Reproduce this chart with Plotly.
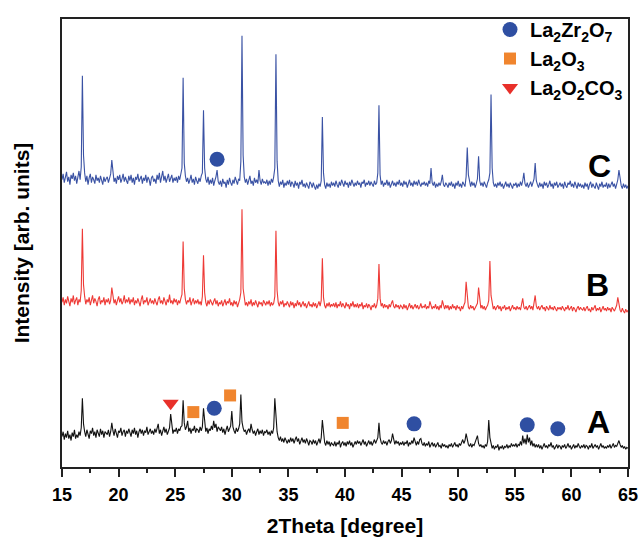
import numpy as np
import plotly.graph_objects as go

# 2theta sampling (0.1 degree step, 15..65)
two_theta = [round(15 + 0.1 * i, 1) for i in range(501)]

# Sample C (blue), intensities
intensity_C = [
    293, 299, 290, 297, 301, 291, 296, 288, 298, 294, 300, 292, 297, 289, 295, 302, 293, 306, 399, 318,
    300, 291, 297, 288, 295, 299, 290, 296, 293, 289, 298, 292, 295, 290, 297, 293, 288, 296, 291, 294,
    296, 290, 295, 299, 313, 297, 291, 295, 289, 297, 293, 298, 290, 294, 299, 291, 296, 292, 289, 297,
    292, 298, 290, 295, 288, 296, 293, 299, 291, 294, 297, 289, 295, 292, 298, 290, 296, 293, 287, 295,
    297, 291, 294, 289, 298, 293, 300, 290, 296, 302, 292, 297, 290, 295, 299, 291, 294, 298, 290, 295,
    292, 296, 290, 297, 293, 298, 305, 397, 310, 297, 291, 295, 289, 293, 298, 290, 294, 288, 296, 292,
    289, 295, 291, 297, 300, 364, 305, 294, 290, 296, 288, 293, 289, 295, 287, 292, 296, 303, 291, 288,
    292, 286, 294, 289, 291, 285, 293, 288, 295, 290, 287, 293, 289, 296, 290, 288, 294, 292, 312, 440,
    318, 296, 290, 294, 288, 293, 297, 289, 292, 287, 295, 290, 293, 289, 303, 292, 288, 294, 290, 291,
    289, 293, 287, 292, 288, 294, 290, 296, 305, 421, 312, 292, 286, 291, 288, 293, 285, 290, 287, 292,
    288, 293, 286, 291, 289, 285, 292, 287, 290, 284, 291, 288, 293, 286, 289, 285, 290, 287, 284, 291,
    289, 285, 290, 286, 283, 288, 284, 289, 286, 292, 357, 300, 288, 284, 290, 286, 289, 285, 291, 287,
    290, 286, 292, 288, 285, 291, 287, 293, 289, 286, 292, 288, 290, 285, 291, 287, 293, 288, 286, 290,
    287, 292, 288, 290, 285, 291, 289, 293, 286, 290, 288, 292, 287, 291, 289, 286, 292, 288, 290, 300,
    369, 298, 288, 292, 286, 290, 288, 293, 287, 291, 285, 289, 292, 287, 290, 286, 291, 288, 293, 287,
    290, 286, 292, 288, 291, 285, 289, 293, 287, 290, 286, 292, 288, 291, 287, 293, 289, 286, 290, 288,
    291, 287, 290, 286, 292, 289, 305, 290, 287, 291, 285, 289, 286, 290, 287, 291, 298, 288, 286, 290,
    288, 285, 290, 287, 291, 286, 289, 284, 290, 287, 292, 286, 289, 285, 291, 288, 286, 296, 326, 298,
    289, 286, 291, 287, 290, 285, 289, 294, 317, 292, 287, 290, 286, 291, 288, 285, 290, 293, 300, 380,
    305, 290, 286, 289, 285, 290, 287, 291, 286, 289, 284, 288, 291, 286, 289, 285, 290, 287, 284, 289,
    287, 290, 285, 289, 286, 291, 287, 292, 300, 289, 286, 290, 285, 288, 291, 286, 289, 294, 310, 292,
    288, 285, 290, 286, 289, 284, 291, 287, 290, 285, 288, 292, 286, 289, 284, 290, 287, 291, 285, 288,
    290, 286, 289, 284, 291, 287, 285, 290, 288, 292, 286, 289, 285, 291, 287, 284, 290, 286, 289, 285,
    288, 284, 290, 286, 289, 283, 288, 291, 285, 289, 286, 284, 290, 287, 283, 289, 286, 291, 285, 288,
    286, 290, 284, 289, 285, 288, 291, 286, 289, 284, 288, 293, 303, 294, 287, 284, 289, 285, 288, 284, 287,
]

# Sample B (red)
intensity_B = [
    168, 173, 165, 171, 167, 174, 169, 164, 172, 168, 175, 166, 170, 173, 165, 171, 168, 180, 243, 186,
    174, 166, 171, 168, 173, 165, 170, 175, 167, 172, 169, 164, 171, 174, 166, 170, 168, 173, 165, 171,
    168, 172, 166, 170, 183, 173, 167, 171, 165, 170, 174, 168, 172, 166, 169, 175, 167, 171, 168, 173,
    166, 171, 168, 173, 165, 170, 167, 172, 169, 164, 171, 175, 166, 170, 168, 173, 165, 169, 172, 167,
    170, 166, 172, 168, 165, 171, 174, 167, 170, 166, 173, 169, 165, 171, 168, 176, 167, 170, 166, 172,
    168, 171, 165, 170, 167, 172, 176, 230, 182, 171, 166, 170, 168, 173, 165, 169, 172, 166, 170, 167,
    171, 166, 169, 165, 174, 216, 178, 168, 164, 170, 166, 171, 167, 165, 169, 172, 166, 170, 164, 168,
    166, 170, 164, 168, 171, 165, 169, 167, 172, 165, 168, 164, 170, 166, 169, 163, 167, 171, 178, 263,
    182, 170, 165, 168, 164, 169, 166, 171, 164, 168, 165, 170, 167, 163, 169, 166, 168, 164, 170, 167,
    165, 169, 166, 170, 164, 168, 165, 167, 174, 241, 180, 168, 164, 169, 166, 170, 163, 167, 165, 169,
    166, 163, 169, 165, 168, 162, 167, 164, 170, 165, 168, 163, 166, 169, 164, 167, 162, 166, 169, 164,
    166, 163, 168, 164, 167, 162, 166, 169, 164, 170, 213, 173, 165, 162, 167, 164, 168, 163, 166, 164,
    167, 163, 168, 162, 166, 164, 169, 163, 167, 165, 162, 168, 164, 166, 161, 167, 164, 169, 163, 166,
    163, 167, 162, 166, 164, 168, 161, 165, 163, 167, 162, 166, 164, 160, 165, 163, 167, 162, 165, 172,
    207, 172, 164, 167, 162, 166, 163, 165, 161, 166, 163, 167, 170, 164, 162, 166, 163, 165, 161, 165,
    164, 161, 166, 162, 165, 160, 164, 167, 162, 165, 161, 164, 166, 162, 165, 161, 163, 167, 162, 164,
    163, 166, 161, 164, 162, 169, 165, 161, 164, 162, 166, 161, 164, 160, 165, 162, 170, 164, 161, 165,
    162, 165, 160, 164, 161, 166, 162, 164, 160, 165, 162, 163, 159, 164, 161, 165, 168, 189, 170, 163,
    161, 165, 162, 164, 160, 163, 166, 167, 183, 168, 162, 165, 161, 164, 160, 163, 165, 170, 210, 175,
    165, 161, 164, 160, 163, 165, 161, 164, 159, 163, 162, 165, 160, 163, 161, 164, 159, 162, 165, 161,
    163, 160, 164, 161, 163, 160, 165, 172, 163, 161, 164, 160, 163, 165, 161, 164, 160, 166, 175, 164,
    161, 164, 160, 163, 165, 161, 163, 159, 164, 162, 160, 165, 161, 163, 160, 164, 162, 159, 163, 161,
    163, 160, 164, 161, 159, 163, 161, 165, 160, 162, 164, 159, 163, 161, 158, 162, 164, 160, 163, 161,
    160, 163, 159, 162, 164, 160, 161, 158, 163, 160, 162, 165, 159, 162, 160, 163, 158, 161, 164, 160,
    162, 159, 163, 160, 162, 158, 163, 161, 159, 162, 165, 173, 164, 160, 158, 162, 159, 157, 161, 158, 160,
]

# Sample A (black)
intensity_A = [
    31, 36, 28, 34, 30, 37, 29, 33, 27, 35, 31, 38, 29, 33, 30, 36, 32, 40, 70, 44,
    36, 31, 38, 33, 29, 37, 34, 40, 32, 36, 30, 38, 35, 31, 39, 33, 37, 30, 36, 34,
    33, 38, 31, 36, 45, 37, 32, 39, 34, 30, 37, 35, 40, 32, 36, 38, 31, 37, 34, 39,
    35, 31, 38, 34, 40, 33, 37, 30, 36, 39, 34, 38, 32, 37, 35, 41, 33, 36, 39, 34,
    37, 33, 39, 35, 40, 44, 34, 38, 32, 37, 41, 35, 39, 33, 38, 40, 54, 41, 34, 38,
    36, 40, 34, 39, 37, 41, 42, 68, 45, 38, 41, 47, 36, 40, 34, 39, 37, 42, 35, 39,
    38, 35, 41, 37, 41, 60, 44, 36, 40, 34, 39, 37, 42, 38, 47, 40, 44, 36, 41, 38,
    37, 41, 35, 39, 33, 38, 42, 36, 40, 42, 57, 41, 37, 34, 40, 36, 39, 44, 74, 46,
    40, 36, 38, 33, 37, 39, 35, 44, 38, 34, 37, 32, 36, 39, 33, 37, 34, 38, 32, 36,
    35, 38, 33, 36, 32, 37, 34, 40, 70, 48, 36, 30, 27, 31, 26, 29, 25, 30, 27, 24,
    28, 25, 30, 26, 29, 24, 28, 31, 26, 29, 23, 27, 30, 25, 28, 24, 29, 26, 22, 27,
    26, 23, 28, 24, 27, 22, 26, 29, 24, 30, 48, 31, 25, 22, 27, 23, 26, 21, 25, 23,
    22, 26, 21, 25, 23, 27, 20, 24, 26, 22, 25, 21, 26, 23, 27, 22, 25, 20, 24, 26,
    23, 27, 24, 26, 22, 25, 28, 23, 26, 21, 25, 27, 23, 26, 22, 25, 28, 24, 27, 30,
    45, 30, 25, 23, 27, 24, 26, 22, 26, 28, 24, 27, 34, 26, 23, 27, 24, 26, 22, 25,
    23, 26, 22, 25, 24, 27, 21, 25, 23, 27, 24, 30, 25, 22, 26, 23, 28, 29, 24, 22,
    25, 21, 24, 22, 26, 20, 23, 25, 21, 24, 20, 23, 25, 21, 22, 19, 24, 21, 23, 20,
    22, 19, 23, 21, 24, 20, 22, 25, 21, 23, 20, 24, 22, 26, 28, 24, 27, 34, 26, 23,
    21, 24, 20, 23, 22, 25, 27, 32, 24, 21, 23, 20, 22, 19, 23, 21, 26, 48, 30, 22,
    19, 22, 18, 21, 20, 23, 17, 21, 19, 22, 18, 21, 20, 23, 19, 22, 20, 24, 21, 23,
    21, 24, 20, 23, 22, 26, 22, 32, 24, 29, 23, 33, 25, 30, 22, 27, 21, 24, 20, 23,
    20, 23, 19, 22, 18, 21, 24, 20, 22, 19, 23, 21, 25, 20, 22, 18, 21, 23, 19, 22,
    21, 18, 22, 20, 23, 19, 21, 24, 20, 22, 18, 21, 23, 19, 22, 20, 24, 21, 19, 22,
    20, 23, 19, 22, 21, 18, 22, 20, 24, 19, 21, 23, 20, 22, 18, 21, 24, 20, 22, 19,
    21, 19, 22, 20, 23, 19, 21, 24, 20, 22, 21, 24, 27, 23, 20, 22, 19, 21, 18, 20, 19,
]

assert len(intensity_A) == len(intensity_B) == len(intensity_C) == len(two_theta)

# Phase markers (2theta, intensity)
zr_theta = [28.7, 28.45, 46.1, 56.1, 58.8]
zr_int = [314, 60, 44, 43, 39]
la2o3_theta = [26.6, 29.85, 39.8]
la2o3_int = [56, 73, 45]
carb_theta = [24.6]
carb_int = [65]

# Sample labels
sample_names = ["A", "B", "C"]
sample_label_theta = [62.35, 62.3, 62.5]
sample_label_int = [46, 186, 307]

x_ticks = [15, 20, 25, 30, 35, 40, 45, 50, 55, 60, 65]

FONT = "Liberation Sans, Arial, sans-serif"

fig = go.Figure()
for y, col in [(intensity_A, "#111111"), (intensity_B, "#ee3a36"), (intensity_C, "#3a52a4")]:
    fig.add_trace(go.Scatter(x=two_theta, y=y, mode="lines",
                             line=dict(color=col, width=1.1), showlegend=False,
                             hoverinfo="skip"))

fig.add_trace(go.Scatter(x=zr_theta, y=zr_int, mode="markers",
                         marker=dict(symbol="circle", size=15, color="#2f4fa2"),
                         name="La<sub>2</sub>Zr<sub>2</sub>O<sub>7</sub>"))
fig.add_trace(go.Scatter(x=la2o3_theta, y=la2o3_int, mode="markers",
                         marker=dict(symbol="square", size=12, color="#f0852e"),
                         name="La<sub>2</sub>O<sub>3</sub>"))
fig.add_trace(go.Scatter(x=carb_theta, y=carb_int, mode="markers",
                         marker=dict(symbol="triangle-down", size=14, color="#e8302a"),
                         name="La<sub>2</sub>O<sub>2</sub>CO<sub>3</sub>"))

for name, tx, ty in zip(sample_names, sample_label_theta, sample_label_int):
    fig.add_annotation(x=tx, y=ty, xref="x", yref="y", text=name, showarrow=False,
                       xanchor="center", yanchor="middle",
                       font=dict(family=FONT, size=32, color="black", weight="bold"))

fig.update_layout(
    width=640, height=537, autosize=False,
    margin=dict(l=62, r=12, t=10, b=70),
    paper_bgcolor="white", plot_bgcolor="white",
    font=dict(family=FONT, color="black"),
    legend=dict(x=1.0, y=1.02, xanchor="right", yanchor="top",
                bgcolor="rgba(0,0,0,0)", borderwidth=0,
                font=dict(size=20, color="black", weight="bold"),
                itemsizing="trace", tracegroupgap=0),
    xaxis=dict(range=[15, 65], tickvals=x_ticks, ticks="outside", ticklen=8,
               tickwidth=1.5, tickcolor="#222", showline=True, linewidth=1.5,
               linecolor="#222", mirror=True, showgrid=False, zeroline=False,
               automargin=False, ticklabelstandoff=3,
               tickfont=dict(size=18, weight="bold"),
               minor=dict(dtick=2.5, tick0=15, ticks="outside", ticklen=4,
                          tickwidth=1.5, tickcolor="#222", showgrid=False),
               title=dict(text="2Theta [degree]", font=dict(size=21, weight="bold"),
                          standoff=14)),
    yaxis=dict(range=[0, 457], showticklabels=False, ticks="", showline=True,
               linewidth=1.5, linecolor="#222", mirror=True, showgrid=False,
               zeroline=False, automargin=False,
               title=dict(text="Intensity [arb. units]", font=dict(size=21, weight="bold"),
                          standoff=25)),
)

fig.write_html("out.html",
               config={"responsive": False, "displayModeBar": False},
               post_script="document.body.style.margin='0';document.body.style.overflow='hidden';")
